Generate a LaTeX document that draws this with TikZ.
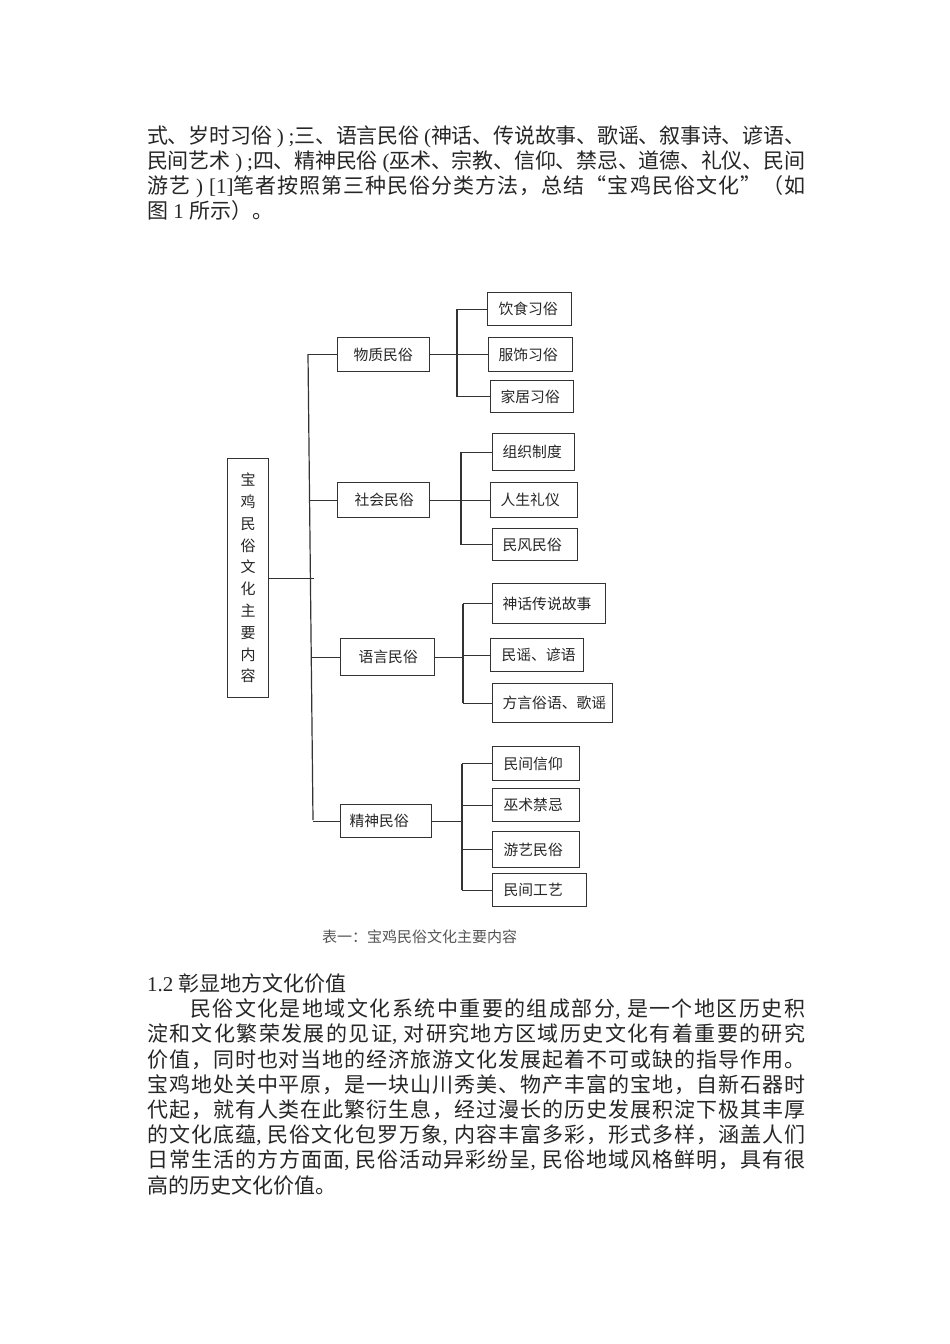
\documentclass[tikz,border=0pt]{standalone}
\usepackage{fontspec}
\setmainfont{Liberation Serif}
\newfontfamily\cjk{Noto Sans CJK SC}
\makeatletter
\XeTeXinterchartokenstate=1
\chardef\spreadcls=20
\count@="3000
\loop \XeTeXcharclass\count@=\spreadcls \advance\count@ 1 \ifnum\count@<"3040 \repeat
\count@="4E00
\loop \XeTeXcharclass\count@=\spreadcls \advance\count@ 1 \ifnum\count@<"A000 \repeat
\count@="FF00
\loop \XeTeXcharclass\count@=\spreadcls \advance\count@ 1 \ifnum\count@<"FF66 \repeat
\XeTeXcharclass"201C=\spreadcls
\XeTeXcharclass"201D=\spreadcls
\makeatother
\XeTeXinterchartoks\spreadcls\spreadcls={\hskip 0pt plus 4pt minus 1pt\relax}
\definecolor{txt}{HTML}{262626}
\definecolor{linec}{HTML}{333333}
\definecolor{capc}{HTML}{555555}
\newcommand\lat[1]{{\rmfamily #1}}
\newcommand\bodyfont{\cjk\fontsize{21}{25}\selectfont}
\newcommand\boxfont{\cjk\fontsize{14.8}{17}\selectfont}
\newcommand\jline[2]{\makebox[#1][s]{#2}}
\tikzset{
  body/.style={anchor=base west, inner sep=0pt, font=\bodyfont, text=txt},
  box/.style={draw=linec, line width=1.2pt, inner ysep=0pt, anchor=north west, font=\boxfont, text=txt},
  conn/.style={draw=linec, line width=1.2pt},
}
\newcommand\bx[7]{\node[box, minimum width=#4pt, minimum height=#5pt, inner xsep=#6pt] (#1) at (#2,#3) {\makebox[\dimexpr #4pt-#6pt-#6pt\relax][l]{#7}};}
\begin{document}
\begin{tikzpicture}[x=1pt,y=-1pt]
\fill[white] (0,0) rectangle (950,1344);
\useasboundingbox (0,0) rectangle (950,1344);

% paragraph 1
\node[body] (p1) at (147,143) {\jline{658pt}{式、岁时习俗\lat{ ) ;}三、语言民俗\lat{ (}神话、传说故事、歌谣、叙事诗、谚语、}};
\node[body] (p2) at (147,168) {\jline{658pt}{民间艺术\lat{ ) ;}四、精神民俗\lat{ (}巫术、宗教、信仰、禁忌、道德、礼仪、民间}};
\node[body] (p3) at (147,193) {\jline{658pt}{游艺\lat{ ) [1]}笔者按照第三种民俗分类方法，总结“宝鸡民俗文化”（如}};
\node[body] (p4) at (147,218) {图\lat{ 1 }所示）。};

% diagram
\node[box, minimum width=41pt, minimum height=239pt, inner sep=0pt, align=center,
  font=\cjk\fontsize{15}{21.8}\selectfont] (root) at (227,458)
  {宝\\鸡\\民\\俗\\文\\化\\主\\要\\内\\容};

\bx{wz}{337}{337}{92}{34}{16}{物质民俗}
\bx{sh}{337}{482}{92}{35}{17}{社会民俗}
\bx{yy}{340}{638}{94}{37}{18}{语言民俗}
\bx{js}{340}{804}{91}{33}{9}{精神民俗}

\bx{a1}{487}{292}{84}{33}{11}{饮食习俗}
\bx{a2}{488}{337}{84}{34}{10}{服饰习俗}
\bx{a3}{490}{380}{83}{32}{10}{家居习俗}
\bx{b1}{492}{433}{82}{37}{10}{组织制度}
\bx{b2}{490}{482}{87}{35}{10}{人生礼仪}
\bx{b3}{492}{528}{85}{32}{10}{民风民俗}
\bx{c1}{492}{583}{113}{40}{10}{神话传说故事}
\bx{c2}{490}{638}{93}{33}{11}{民谣、谚语}
\bx{c3}{492}{683}{120}{39}{10}{方言俗语、歌谣}
\bx{d1}{492}{746}{87}{34}{11}{民间信仰}
\bx{d2}{492}{788}{87}{33}{11}{巫术禁忌}
\bx{d3}{492}{831}{87}{36}{11}{游艺民俗}
\bx{d4}{492}{873}{94}{33}{11}{民间工艺}

% main trunk
\coordinate (tTop) at (308,354);
\coordinate (tBot) at (313,820);
\draw[conn] (tTop) -- (tBot);
\draw[conn] (root.east) -- ++(45,0);
\draw[conn] (wz.west) -- ++(-29,0);
\draw[conn] (sh.west) -- ++(-27,0);
\draw[conn] (yy.west) -- ++(-29,0);
\draw[conn] (js.west) -- ++(-27,0);

% sub trunks
\coordinate (sa) at (457,0);
\coordinate (sb) at (461,0);
\coordinate (sc) at (463,0);
\coordinate (sd) at (462,0);
\draw[conn] (wz.east) -- (wz.east -| sa);
\draw[conn] (a1.west -| sa) -- (a3.west -| sa);
\foreach \c in {a1,a2,a3} \draw[conn] (\c.west -| sa) -- (\c.west);
\draw[conn] (sh.east) -- (sh.east -| sb);
\draw[conn] (b1.west -| sb) -- (b3.west -| sb);
\foreach \c in {b1,b2,b3} \draw[conn] (\c.west -| sb) -- (\c.west);
\draw[conn] (yy.east) -- (yy.east -| sc);
\draw[conn] (c1.west -| sc) -- (c3.west -| sc);
\foreach \c in {c1,c2,c3} \draw[conn] (\c.west -| sc) -- (\c.west);
\draw[conn] (js.east) -- (js.east -| sd);
\draw[conn] (d1.west -| sd) -- (d4.west -| sd);
\foreach \c in {d1,d2,d3,d4} \draw[conn] (\c.west -| sd) -- (\c.west);

\node[inner sep=0pt, font=\cjk\fontsize{15}{17}\selectfont, text=capc] (cap) at (419.5,937) {表一：宝鸡民俗文化主要内容};

% paragraph 2
\node[body] (q0) at (147,991) {\lat{1.2 }彰显地方文化价值};
\node[body] (q1) at (190,1016) {\jline{615pt}{民俗文化是地域文化系统中重要的组成部分\lat{, }是一个地区历史积}};
\node[body] (q2) at (147,1041) {\jline{658pt}{淀和文化繁荣发展的见证\lat{, }对研究地方区域历史文化有着重要的研究}};
\node[body] (q3) at (147,1067) {\jline{658pt}{价值，同时也对当地的经济旅游文化发展起着不可或缺的指导作用。}};
\node[body] (q4) at (147,1092) {\jline{658pt}{宝鸡地处关中平原，是一块山川秀美、物产丰富的宝地，自新石器时}};
\node[body] (q5) at (147,1117) {\jline{658pt}{代起，就有人类在此繁衍生息，经过漫长的历史发展积淀下极其丰厚}};
\node[body] (q6) at (147,1142) {\jline{658pt}{的文化底蕴\lat{, }民俗文化包罗万象\lat{, }内容丰富多彩，形式多样，涵盖人们}};
\node[body] (q7) at (147,1167) {\jline{658pt}{日常生活的方方面面\lat{, }民俗活动异彩纷呈\lat{, }民俗地域风格鲜明，具有很}};
\node[body] (q8) at (147,1193) {高的历史文化价值。};
\end{tikzpicture}
\end{document}
